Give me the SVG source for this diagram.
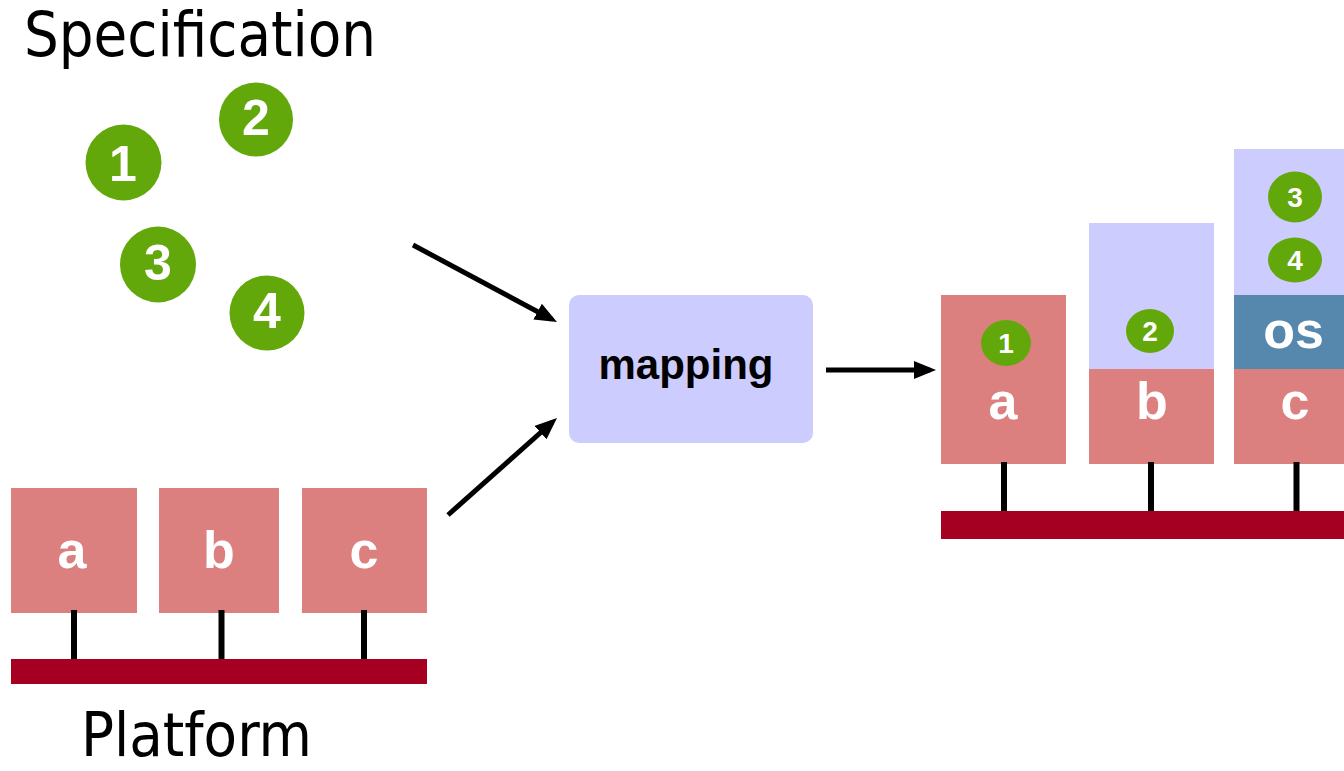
<svg xmlns="http://www.w3.org/2000/svg" width="1344" height="771" viewBox="0 0 1344 771">
<style>
.title{font-family:"DejaVu Sans Condensed","DejaVu Sans",sans-serif;font-size:62px;fill:#000}
.lbl{font-family:"Liberation Sans",Arial,sans-serif;font-weight:bold;font-size:52px;fill:#fff;text-anchor:middle}
.num{font-family:"Liberation Sans",Arial,sans-serif;font-weight:bold;font-size:50px;fill:#fff;text-anchor:middle}
.snum{font-family:"Liberation Sans",Arial,sans-serif;font-weight:bold;font-size:28px;fill:#fff;text-anchor:middle}
.green{fill:#63a80b}
.red{fill:#db7f7f}
.lav{fill:#ccccff}
.bus{fill:#a50021}
.stem{stroke:#000;stroke-width:6}
.arrow{stroke:#000;stroke-width:5;fill:none}
</style>
<defs>
<marker id="ah" markerUnits="userSpaceOnUse" markerWidth="24" markerHeight="20" refX="16" refY="9" orient="auto">
<path d="M0,0 L22,9 L0,18 z" fill="#000"/>
</marker>
</defs>
<rect width="1344" height="771" fill="#fff"/>

<g id="spec-title"><text class="title" x="24" y="56" textLength="352" lengthAdjust="spacingAndGlyphs">Specification</text></g>

<g id="spec-1"><circle class="green" cx="123.5" cy="162.5" r="38"/><text class="num" x="123" y="181">1</text></g>
<g id="spec-2"><circle class="green" cx="256" cy="119.5" r="37"/><text class="num" x="256" y="135">2</text></g>
<g id="spec-3"><circle class="green" cx="158" cy="264.5" r="38"/><text class="num" x="158" y="280">3</text></g>
<g id="spec-4"><circle class="green" cx="267" cy="313" r="37.5"/><text class="num" x="267" y="328">4</text></g>

<g id="platform">
<rect class="red" x="11" y="488" width="126" height="125"/>
<rect class="red" x="159" y="488" width="120" height="125"/>
<rect class="red" x="302" y="488" width="125" height="125"/>
<text class="lbl" x="72" y="568">a</text>
<text class="lbl" x="219" y="568">b</text>
<text class="lbl" x="364" y="568">c</text>
<line class="stem" x1="74" y1="610" x2="74" y2="662"/>
<line class="stem" x1="221.5" y1="610" x2="221.5" y2="662"/>
<line class="stem" x1="364" y1="610" x2="364" y2="662"/>
<rect class="bus" x="11" y="659" width="416" height="25"/>
</g>

<g id="platform-title"><text class="title" x="81" y="756" font-size="60" textLength="231" lengthAdjust="spacingAndGlyphs" style="font-size:60px">Platform</text></g>

<g id="mapping">
<rect class="lav" x="569" y="295" width="244" height="148" rx="10" ry="10"/>
<text x="686" y="379" font-family="Liberation Sans, Arial, sans-serif" font-weight="bold" font-size="42" fill="#000" text-anchor="middle">mapping</text>
</g>

<g id="connectors">
<line class="arrow" x1="413" y1="245" x2="551.7" y2="319.2" marker-end="url(#ah)"/>
<line class="arrow" x1="448" y1="515" x2="552.5" y2="422" marker-end="url(#ah)"/>
<line class="arrow" x1="826" y1="370" x2="930" y2="370" marker-end="url(#ah)"/>
</g>

<g id="result">
<rect class="red" x="941" y="295" width="125" height="169"/>
<ellipse class="green" cx="1006" cy="343" rx="25" ry="23"/>
<text class="snum" x="1006" y="353">1</text>
<text class="lbl" x="1003" y="419">a</text>

<rect class="lav" x="1089" y="223" width="125" height="146"/>
<rect class="red" x="1089" y="369" width="125" height="95"/>
<ellipse class="green" cx="1150" cy="331" rx="24" ry="22"/>
<text class="snum" x="1150" y="341">2</text>
<text class="lbl" x="1152" y="419">b</text>

<rect class="lav" x="1234" y="149" width="110" height="146"/>
<rect fill="#5688ad" x="1234" y="295" width="110" height="74"/>
<rect class="red" x="1234" y="369" width="110" height="95"/>
<ellipse class="green" cx="1295" cy="197" rx="27" ry="25.5"/>
<text class="snum" x="1295" y="207">3</text>
<ellipse class="green" cx="1295" cy="260" rx="27" ry="22.5"/>
<text class="snum" x="1295" y="270">4</text>
<text class="lbl" x="1293.5" y="348">os</text>
<text class="lbl" x="1295" y="419">c</text>

<line class="stem" x1="1004" y1="462" x2="1004" y2="514"/>
<line class="stem" x1="1151" y1="462" x2="1151" y2="514"/>
<line class="stem" x1="1296.5" y1="462" x2="1296.5" y2="514"/>
<rect class="bus" x="941" y="511" width="403" height="28"/>
</g>
</svg>
